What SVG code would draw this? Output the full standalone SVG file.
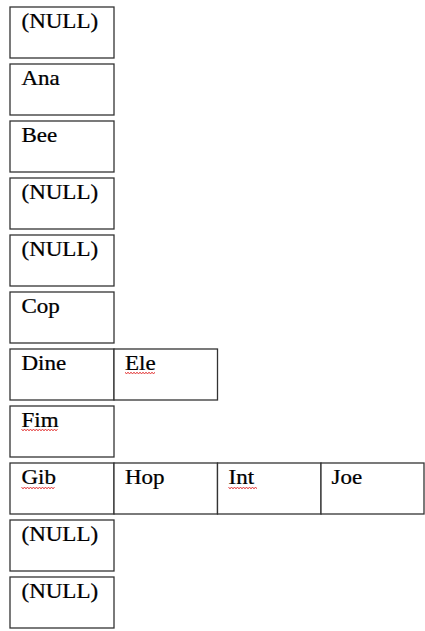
<svg xmlns="http://www.w3.org/2000/svg" width="425" height="631" viewBox="0 0 425 631">
<style>
rect.c{fill:#fff;stroke:#333;stroke-width:1.3}
text{font-family:"Liberation Serif","Times New Roman",serif;font-size:20px;fill:#000;stroke:#000;stroke-width:0.25}
path.sq{fill:none;stroke:#e02020;stroke-width:1}
</style>
<rect width="425" height="631" fill="#fff"/>
<g id="connectors"/>
<g id="n0"><rect class="c" x="10" y="7" width="104" height="51"/><text transform="translate(21.5,28) scale(1.15,1)">(NULL)</text></g>
<g id="n1"><rect class="c" x="10" y="64" width="104" height="51"/><text transform="translate(21.5,85) scale(1.15,1)">Ana</text></g>
<g id="n2"><rect class="c" x="10" y="121" width="104" height="51"/><text transform="translate(21.5,142) scale(1.15,1)">Bee</text></g>
<g id="n3"><rect class="c" x="10" y="178" width="104" height="51"/><text transform="translate(21.5,199) scale(1.15,1)">(NULL)</text></g>
<g id="n4"><rect class="c" x="10" y="235" width="104" height="51"/><text transform="translate(21.5,256) scale(1.15,1)">(NULL)</text></g>
<g id="n5"><rect class="c" x="10" y="292" width="104" height="51"/><text transform="translate(21.5,313) scale(1.15,1)">Cop</text></g>
<g id="n6"><rect class="c" x="10" y="349" width="104" height="51"/><text transform="translate(21.5,370) scale(1.15,1)">Dine</text>
<rect class="c" x="114" y="349" width="103.5" height="51"/><text transform="translate(125,370) scale(1.15,1)">Ele</text></g>
<g id="n7"><rect class="c" x="10" y="406" width="104" height="51"/><text transform="translate(21.5,427) scale(1.15,1)">Fim</text></g>
<g id="n8"><rect class="c" x="10" y="463" width="104" height="51"/><text transform="translate(21.5,484) scale(1.15,1)">Gib</text>
<rect class="c" x="114" y="463" width="103.5" height="51"/><text transform="translate(125,484) scale(1.15,1)">Hop</text>
<rect class="c" x="217.5" y="463" width="103.5" height="51"/><text transform="translate(228.5,484) scale(1.15,1)">Int</text>
<rect class="c" x="321" y="463" width="103" height="51"/><text transform="translate(331.5,484) scale(1.15,1)">Joe</text></g>
<g id="n9"><rect class="c" x="10" y="520" width="104" height="51"/><text transform="translate(21.5,541) scale(1.15,1)">(NULL)</text></g>
<g id="n10"><rect class="c" x="10" y="577" width="104" height="51"/><text transform="translate(21.5,598) scale(1.15,1)">(NULL)</text></g>
<g id="squiggles">
<path class="sq" d="M125,372.5 l1.5,1 l1.5,-1 l1.5,1 l1.5,-1 l1.5,1 l1.5,-1 l1.5,1 l1.5,-1 l1.5,1 l1.5,-1 l1.5,1 l1.5,-1 l1.5,1 l1.5,-1 l1.5,1 l1.5,-1 l1.5,1 l1.5,-1 l1.5,1 l1.5,-1"/>
<path class="sq" d="M21.5,429.5 l1.5,1 l1.5,-1 l1.5,1 l1.5,-1 l1.5,1 l1.5,-1 l1.5,1 l1.5,-1 l1.5,1 l1.5,-1 l1.5,1 l1.5,-1 l1.5,1 l1.5,-1 l1.5,1 l1.5,-1 l1.5,1 l1.5,-1 l1.5,1 l1.5,-1 l1.5,1 l1.5,-1 l1.5,1 l1.5,-1"/>
<path class="sq" d="M21.5,487.5 l1.5,1 l1.5,-1 l1.5,1 l1.5,-1 l1.5,1 l1.5,-1 l1.5,1 l1.5,-1 l1.5,1 l1.5,-1 l1.5,1 l1.5,-1 l1.5,1 l1.5,-1 l1.5,1 l1.5,-1 l1.5,1 l1.5,-1 l1.5,1 l1.5,-1 l1.5,1 l1.5,-1"/>
<path class="sq" d="M228.5,487.5 l1.5,1 l1.5,-1 l1.5,1 l1.5,-1 l1.5,1 l1.5,-1 l1.5,1 l1.5,-1 l1.5,1 l1.5,-1 l1.5,1 l1.5,-1 l1.5,1 l1.5,-1 l1.5,1 l1.5,-1 l1.5,1 l1.5,-1 l1.5,1"/>
</g>
</svg>
